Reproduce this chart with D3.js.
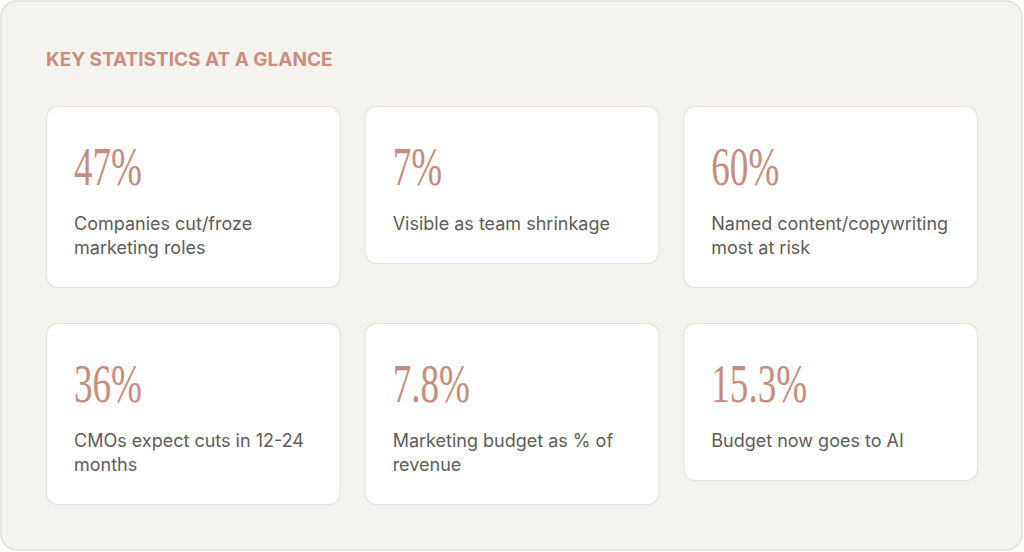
<!DOCTYPE html>
<html>
<head>
<meta charset="utf-8">
<script src="https://cdn.jsdelivr.net/npm/d3@7"></script>
<style>
  html, body { margin: 0; padding: 0; background: #ffffff; }
  svg { display: block; }
</style>
</head>
<body>
<div id="chart"></div>
<script>
  // stat cards, left to right, top to bottom
  var statValues = ["47%", "7%", "60%", "36%", "7.8%", "15.3%"];
  var statLabels = [
    "Companies cut/froze marketing roles",
    "Visible as team shrinkage",
    "Named content/copywriting most at risk",
    "CMOs expect cuts in 12-24 months",
    "Marketing budget as % of revenue",
    "Budget now goes to AI"
  ];
  var title = "KEY STATISTICS AT A GLANCE";

  var width = 1024, height = 552;
  var cols = 3, rows = 2;

  var svg = d3.select("#chart").append("svg")
    .attr("width", width)
    .attr("height", height);

  // outer panel
  svg.append("rect")
    .attr("x", 1).attr("y", 1)
    .attr("width", width - 3).attr("height", height - 3)
    .attr("rx", 16)
    .attr("fill", "#f5f3ef")
    .attr("stroke", "#e2dfda")
    .attr("stroke-width", 1.5);

  svg.append("text")
    .attr("x", 46).attr("y", 66)
    .attr("font-family", "Inter, 'Noto Sans', sans-serif")
    .attr("font-weight", 700)
    .attr("font-size", 19)
    .attr("fill", "#c98e7e")
    .text(title);

  var x = d3.scaleBand().domain(d3.range(cols)).range([46, 978]).paddingInner(0.075);
  var y = d3.scaleBand().domain(d3.range(rows)).range([106, 506]).paddingInner(0.157);

  var data = statValues.map(function (v, i) {
    return { value: v, label: statLabels[i], col: i % cols, row: Math.floor(i / cols) };
  });

  var cards = svg.selectAll(".statCard")
    .data(data)
    .enter().append("g")
    .attr("class", "statCard")
    .attr("transform", function (d) { return "translate(" + x(d.col) + "," + y(d.row) + ")"; });

  var cardBg = cards.append("rect")
    .attr("x", 0.5).attr("y", 0.5)
    .attr("width", x.bandwidth() - 1)
    .attr("rx", 11)
    .attr("fill", "#ffffff")
    .attr("stroke", "#e6e3df")
    .attr("stroke-width", 1.2);

  cards.append("text")
    .attr("class", "statValue")
    .attr("transform", "translate(28,79) scale(0.675,1)")
    .attr("font-family", "'Liberation Serif', 'DejaVu Serif', serif")
    .attr("font-size", 55)
    .attr("fill", "#c68c7e")
    .text(function (d) { return d.value; });

  var maxW = x.bandwidth() - 54;
  cards.each(function (d) {
    var t = d3.select(this).append("text")
      .attr("class", "statLabel")
      .attr("x", 28).attr("y", 124)
      .attr("font-family", "Inter, 'Noto Sans', sans-serif")
      .attr("font-size", 18)
      .attr("fill", "#5c5c5c");
    var words = d.label.split(" "), line = [], n = 0;
    var ts = t.append("tspan").attr("x", 28).attr("dy", 0);
    words.forEach(function (w) {
      line.push(w);
      ts.text(line.join(" "));
      if (ts.node().getComputedTextLength() > maxW && line.length > 1) {
        line.pop();
        ts.text(line.join(" "));
        line = [w];
        n++;
        ts = t.append("tspan").attr("x", 28).attr("dy", 24).text(w);
      }
    });
    d.lines = n + 1;
  });

  cardBg.attr("height", function (d) { return 134 + 24 * d.lines - 1; });
</script>
</body>
</html>
